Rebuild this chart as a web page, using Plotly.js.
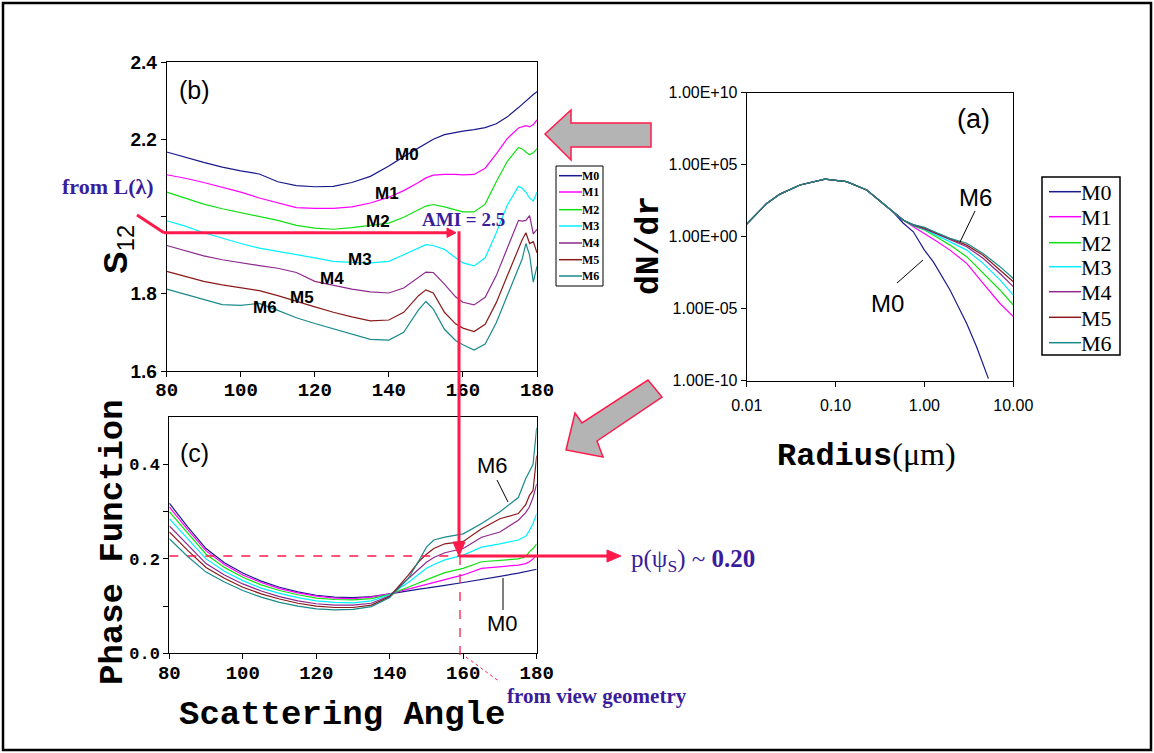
<!DOCTYPE html>
<html>
<head>
<meta charset="utf-8">
<script src="https://cdn.plot.ly/plotly-3.0.1.min.js"></script>
<style>html,body{margin:0;padding:0;background:#fff;}#chart{width:1154px;height:753px;}</style>
</head>
<body>
<div id="chart"></div>
<script>
// ---------------- DATA ----------------
const SERIES = ['M0','M1','M2','M3','M4','M5','M6'];
const COLORS = ['#1a1a8c','#ff00ff','#11e011','#00f0ff','#8e2a8e','#8b1a1a','#1a8a8a'];

// Panel (b): S12 vs scattering angle
const ANG_B = [80,85,90,95,100,105,110,115,120,125,130,135,140,144,148,150,152,155,158,160,163,166,169,172,175,176,177,178,179,180];
const S12_M0 = [2.167,2.153,2.140,2.128,2.118,2.110,2.090,2.080,2.077,2.078,2.088,2.104,2.131,2.155,2.178,2.190,2.200,2.212,2.218,2.221,2.225,2.230,2.240,2.258,2.282,2.291,2.300,2.308,2.316,2.323];
const S12_M1 = [2.108,2.099,2.088,2.076,2.063,2.048,2.035,2.023,2.021,2.021,2.025,2.035,2.050,2.067,2.088,2.100,2.107,2.109,2.109,2.108,2.109,2.125,2.162,2.202,2.229,2.232,2.235,2.232,2.238,2.250];
const S12_M2 = [2.063,2.048,2.032,2.020,2.010,2.000,1.990,1.977,1.970,1.967,1.971,1.977,1.983,1.998,2.017,2.027,2.031,2.025,2.017,2.012,2.012,2.032,2.090,2.143,2.179,2.175,2.167,2.160,2.165,2.176];
const S12_M3 = [1.989,1.975,1.958,1.943,1.930,1.918,1.910,1.902,1.893,1.884,1.881,1.880,1.884,1.901,1.919,1.927,1.925,1.915,1.893,1.880,1.872,1.893,1.958,2.030,2.078,2.073,2.063,2.048,2.040,2.063];
const S12_M4 = [1.925,1.911,1.898,1.888,1.880,1.873,1.866,1.855,1.832,1.821,1.812,1.805,1.802,1.815,1.842,1.856,1.855,1.825,1.792,1.778,1.771,1.791,1.847,1.918,1.990,1.988,1.990,2.002,1.955,1.967];
const S12_M5 = [1.858,1.845,1.832,1.823,1.815,1.808,1.795,1.780,1.766,1.752,1.740,1.730,1.732,1.752,1.795,1.810,1.802,1.752,1.722,1.711,1.702,1.721,1.777,1.847,1.917,1.940,1.958,1.930,1.935,1.906];
const S12_M6 = [1.812,1.798,1.784,1.772,1.770,1.775,1.757,1.738,1.723,1.709,1.694,1.682,1.680,1.700,1.758,1.780,1.760,1.708,1.679,1.668,1.654,1.670,1.725,1.795,1.867,1.890,1.930,1.900,1.830,1.871];
const S12_ALL = [S12_M0,S12_M1,S12_M2,S12_M3,S12_M4,S12_M5,S12_M6];
const S12_TICKS = [1.6,1.8,2.2,2.4];
const S12_MINOR = [2.0];

// Panel (c): phase function vs scattering angle
const ANG_C = [80,85,90,95,100,105,110,115,120,125,130,135,140,145,148,150,152,155,160,165,170,175,177,178,179,180];
const PF_M0 = [0.318,0.268,0.222,0.192,0.170,0.153,0.140,0.130,0.123,0.119,0.118,0.120,0.126,0.133,0.136,0.138,0.140,0.144,0.150,0.156,0.163,0.170,0.173,0.175,0.176,0.178];
const PF_M1 = [0.310,0.262,0.217,0.188,0.166,0.150,0.137,0.128,0.121,0.117,0.116,0.119,0.126,0.136,0.142,0.146,0.150,0.157,0.166,0.180,0.183,0.187,0.190,0.194,0.200,0.208];
const PF_M2 = [0.300,0.254,0.210,0.182,0.161,0.145,0.133,0.124,0.117,0.114,0.113,0.116,0.125,0.140,0.150,0.156,0.162,0.171,0.180,0.194,0.197,0.200,0.205,0.215,0.222,0.232];
const PF_M3 = [0.285,0.242,0.200,0.174,0.154,0.138,0.127,0.118,0.111,0.108,0.107,0.111,0.124,0.150,0.168,0.180,0.188,0.198,0.208,0.225,0.232,0.240,0.248,0.260,0.275,0.296];
const PF_M4 = [0.270,0.230,0.190,0.166,0.147,0.132,0.120,0.111,0.105,0.102,0.102,0.106,0.122,0.158,0.180,0.193,0.203,0.213,0.222,0.246,0.257,0.282,0.298,0.310,0.330,0.359];
const PF_M5 = [0.257,0.218,0.182,0.159,0.140,0.126,0.115,0.106,0.100,0.097,0.097,0.102,0.120,0.165,0.195,0.210,0.222,0.232,0.237,0.264,0.285,0.296,0.315,0.334,0.345,0.419];
const PF_M6 = [0.243,0.205,0.172,0.151,0.133,0.119,0.108,0.100,0.094,0.092,0.093,0.099,0.118,0.158,0.197,0.225,0.240,0.246,0.253,0.275,0.300,0.330,0.370,0.385,0.400,0.478];
const PF_ALL = [PF_M0,PF_M1,PF_M2,PF_M3,PF_M4,PF_M5,PF_M6];
const PF_TICKS = [0,0.2,0.4];
const PF_TICKTEXT = ['0.0','0.2','0.4'];
const PF_MINOR = [0.1,0.3];
const ANG_TICKS = [80,100,120,140,160,180];

// Panel (a): size distribution dN/dr vs radius
const R_M0 = [0.01,0.0168,0.0237,0.0398,0.0759,0.133,0.224,0.344,0.447,0.575,0.75,1.0,1.26,1.94,2.99,3.86,5.25];
const DN_M0 = [7.6,204,912,3890,1.0e4,6600,1740,204,50,9,2.2,0.117,0.018,2.0e-4,9.5e-7,2.3e-8,1.4e-10];
const R_A = [0.01,0.0168,0.0237,0.0398,0.0759,0.133,0.224,0.344,0.447,0.575,0.75,1.0,1.4,1.94,2.99,4.57,7.08,10];
const DN_M1 = [7.6,204,912,3890,1.0e4,6600,1740,204,55,14.5,4.9,1.7,0.45,0.117,0.014,5.8e-4,2.3e-5,2.8e-6];
const DN_M2 = [7.6,204,912,3890,1.0e4,6600,1740,204,55,14.5,5.5,2.9,0.87,0.26,0.041,2.8e-3,2.0e-4,1.8e-5];
const DN_M3 = [7.6,204,912,3890,1.0e4,6600,1740,204,55,14.5,6.0,3.2,1.19,0.45,0.117,0.014,1.0e-3,8.9e-5];
const DN_M4 = [7.6,204,912,3890,1.0e4,6600,1740,204,55,14.5,6.3,3.5,1.5,0.65,0.20,0.032,2.8e-3,3.4e-4];
const DN_M5 = [7.6,204,912,3890,1.0e4,6600,1740,204,55,14.5,6.6,4.0,1.6,0.70,0.26,0.052,4.9e-3,7.4e-4];
const DN_M6 = [7.6,204,912,3890,1.0e4,6600,1740,204,55,14.5,6.9,4.5,1.8,0.76,0.35,0.069,8.3e-3,1.26e-3];
const DN_ALL = [DN_M0,DN_M1,DN_M2,DN_M3,DN_M4,DN_M5,DN_M6];
const R_TICKS = [0.01,0.1,1,10];
const R_TICKTEXT = ['0.01','0.10','1.00','10.00'];
const DN_TICKS = [1e-10,1e-5,1,1e5,1e10];
const DN_TICKTEXT = ['1.00E-10','1.00E-05','1.00E+00','1.00E+05','1.00E+10'];

// ---------------- HELPERS ----------------
const W = 1154, H = 753;
const PX = x => x / W;
const PY = y => 1 - y / H;
const RED = '#ff1a4b';
const INDIGO = '#3a1d9c';
const MONO = 'Liberation Mono';
const SANS = 'Liberation Sans';
const SERIF = 'Liberation Serif';

const traces = [];
SERIES.forEach((name, i) => {
  traces.push({x: ANG_B, y: S12_ALL[i], xaxis: 'x', yaxis: 'y', mode: 'lines', name: name,
    line: {color: COLORS[i], width: 1.2}, showlegend: false, hoverinfo: 'skip'});
});
SERIES.forEach((name, i) => {
  traces.push({x: ANG_C, y: PF_ALL[i], xaxis: 'x2', yaxis: 'y2', mode: 'lines', name: name,
    line: {color: COLORS[i], width: 1.2}, showlegend: false, hoverinfo: 'skip'});
});
SERIES.forEach((name, i) => {
  traces.push({x: i === 0 ? R_M0 : R_A, y: DN_ALL[i], xaxis: 'x3', yaxis: 'y3', mode: 'lines', name: name,
    line: {color: COLORS[i], width: 1.2}, showlegend: false, hoverinfo: 'skip'});
});

function axis(domain, anchor, extra) {
  return Object.assign({
    domain: domain, anchor: anchor, showline: true, linecolor: '#000', linewidth: 1, mirror: true,
    ticks: 'outside', ticklen: 5, tickcolor: '#000', tickwidth: 1, showgrid: false, zeroline: false,
    fixedrange: true
  }, extra);
}
const MINOR = vals => ({tickmode: 'array', tickvals: vals, ticks: 'outside', ticklen: 5, tickcolor: '#000', tickwidth: 1, showgrid: false});

const layout = {
  width: W, height: H, margin: {l: 0, r: 0, t: 0, b: 0},
  paper_bgcolor: '#fff', plot_bgcolor: '#fff', showlegend: false,
  xaxis: axis([PX(166.7), PX(537)], 'y', {range: [80, 180], tickmode: 'array', tickvals: ANG_TICKS,
    tickfont: {family: MONO, size: 19, color: '#000', weight: 'bold'}, ticklabelstandoff: -4}),
  yaxis: axis([PY(371), PY(62)], 'x', {range: [1.6, 2.4], tickmode: 'array', tickvals: S12_TICKS,
    minor: MINOR(S12_MINOR), tickformat: '.1f',
    tickfont: {family: SANS, size: 19, color: '#000', weight: 'bold'}}),
  xaxis2: axis([PX(169.3), PX(536.7)], 'y2', {range: [80, 180], tickmode: 'array', tickvals: ANG_TICKS,
    tickfont: {family: MONO, size: 19, color: '#000', weight: 'bold'}, ticklabelstandoff: -3}),
  yaxis2: axis([PY(653.3), PY(417.3)], 'x2', {range: [0, 0.5], tickmode: 'array', tickvals: PF_TICKS, ticktext: PF_TICKTEXT,
    minor: MINOR(PF_MINOR),
    tickfont: {family: MONO, size: 17, color: '#000', weight: 'bold'}}),
  xaxis3: axis([PX(746.7), PX(1013.3)], 'y3', {type: 'log', range: [-2, 1], tickmode: 'array', tickvals: R_TICKS, ticktext: R_TICKTEXT,
    tickfont: {family: SANS, size: 16, color: '#000'}, ticklabelstandoff: 5}),
  yaxis3: axis([PY(380.7), PY(92.7)], 'x3', {type: 'log', range: [-10, 10], tickmode: 'array', tickvals: DN_TICKS, ticktext: DN_TICKTEXT,
    tickfont: {family: SANS, size: 16, color: '#000'}}),
  shapes: [],
  annotations: []
};

const S = layout.shapes, A = layout.annotations;
function line(x0, y0, x1, y1, color, width, dash) {
  S.push({type: 'line', xref: 'paper', yref: 'paper', x0: PX(x0), y0: PY(y0), x1: PX(x1), y1: PY(y1),
    line: {color: color, width: width, dash: dash || 'solid'}});
}
function rect(x0, y0, x1, y1, color, width) {
  S.push({type: 'rect', xref: 'paper', yref: 'paper', x0: PX(x0), y0: PY(y0), x1: PX(x1), y1: PY(y1),
    line: {color: color, width: width}, fillcolor: 'rgba(0,0,0,0)'});
}
function poly(pts, fill, stroke, lw) {
  const d = pts.map((p, k) => (k ? 'L' : 'M') + PX(p[0]).toFixed(5) + ',' + PY(p[1]).toFixed(5)).join(' ') + ' Z';
  S.push({type: 'path', xref: 'paper', yref: 'paper', path: d, fillcolor: fill, line: {color: stroke, width: lw}});
}
function text(t, x, y, font, opts) {
  A.push(Object.assign({text: t, xref: 'paper', yref: 'paper', x: PX(x), y: PY(y), showarrow: false,
    xanchor: 'center', yanchor: 'middle', font: Object.assign({color: '#000'}, font)}, opts || {}));
}

// outer frame
rect(3, 3, 1151, 750, '#000', 2.5);

// gray block arrows
poly([[545,134],[571,110],[571,123],[651,123],[651,147],[571,147],[571,160]], '#b4b4b4', RED, 1.5);
poly([[566,450],[575,413],[582,423],[648,380],[662,397],[597,441],[603,457]], '#b4b4b4', RED, 1.5);

// red guide lines and arrows
line(169.3, 556, 459, 556, RED, 1.3, 'dash');
line(460, 556, 460, 655, RED, 1.3, 'dash');
line(466, 657, 500, 682, RED, 1, 'dot');
line(137, 215, 164, 232.7, RED, 3);
line(164, 232.7, 449, 232.7, RED, 3);
poly([[456,232.7],[447,228],[447,237.4]], RED, RED, 1);
line(459, 231.2, 459, 545, RED, 3);
poly([[459,556],[453,542],[465,542]], RED, RED, 1);
line(459, 556, 609, 556, RED, 3);
poly([[621,556],[607,550],[607,562]], RED, RED, 1);

// leader lines
line(497, 480, 508, 502, '#000', 1);
line(503, 578, 503, 610, '#000', 1);
line(975, 211, 960, 242, '#000', 1);
line(897, 283, 923, 260, '#000', 1);

// legend (b)
rect(556, 166, 603, 286, '#000', 1);
const LEG_B_Y = [175.7, 192, 209.7, 226, 243, 259.7, 276];
SERIES.forEach((n, i) => {
  line(559, LEG_B_Y[i], 582, LEG_B_Y[i], COLORS[i], 1.5);
  text(n, 580, LEG_B_Y[i], {family: SERIF, size: 12, weight: 'bold'}, {xanchor: 'left'});
});
// legend (a)
rect(1042, 177, 1120, 355, '#000', 1.5);
const LEG_A_Y = [191.7, 216.7, 242.7, 266.7, 291.7, 317.3, 342.7];
SERIES.forEach((n, i) => {
  line(1049, LEG_A_Y[i], 1081, LEG_A_Y[i], COLORS[i], 1.5);
  text(n, 1079, LEG_A_Y[i] + 1, {family: SERIF, size: 22}, {xanchor: 'left'});
});

// panel letters
text('(b)', 194, 90, {family: SANS, size: 25});
text('(c)', 194, 453, {family: SANS, size: 25});
text('(a)', 973, 119, {family: SANS, size: 27});

// curve labels panel (b)
const LAB_B = [[407,154],[387,193],[378,222],[360,259],[332,278],[302,297],[265,307]];
SERIES.forEach((n, i) => text(n, LAB_B[i][0], LAB_B[i][1], {family: SANS, size: 17, weight: 'bold'}));
// curve labels panel (c) and (a)
text('M6', 492, 465, {family: SANS, size: 22});
text('M0', 502, 623, {family: SANS, size: 22});
text('M6', 975, 197, {family: SANS, size: 24});
text('M0', 887, 303, {family: SANS, size: 24});

// explanatory notes
text('from L(λ)', 108, 186, {family: SERIF, size: 22, weight: 'bold', color: INDIGO});
text('AMI = 2.5', 463, 220, {family: SERIF, size: 19, weight: 'bold', color: INDIGO});
text('p(ψ<sub>S</sub>) ~ <b>0.20</b>', 693, 560, {family: SERIF, size: 25, color: INDIGO});
text('from view geometry', 597, 696, {family: SERIF, size: 21, weight: 'bold', color: INDIGO});

// axis titles
text('<b>S</b><sub>12</sub>', 118, 250, {family: SANS, size: 34}, {textangle: -90});
text('Phase Function', 113, 542, {family: MONO, size: 34, weight: 'bold'}, {textangle: -90});
text('Scattering Angle', 342, 715, {family: MONO, size: 34, weight: 'bold'});
text('<b>Radius</b><span style="font-family:Liberation Serif">(μm)</span>', 866, 455, {family: MONO, size: 32});
text('dN/dr', 650, 246, {family: MONO, size: 33, weight: 'bold'}, {textangle: -90});

Plotly.newPlot('chart', traces, layout, {staticPlot: true, displayModeBar: false});
</script>
</body>
</html>
